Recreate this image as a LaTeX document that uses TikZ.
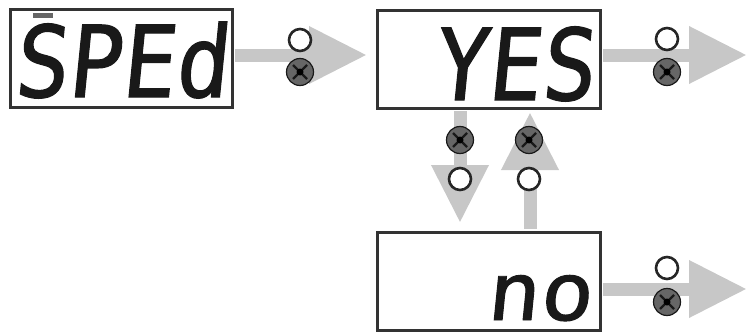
\documentclass[tikz,border=0pt]{standalone}
\usepackage{fontspec}
\newfontfamily\segfont[FakeStretch=0.9,FakeSlant=0.1,FakeBold=1.2]{DejaVu Sans Mono}
\newfontfamily\segfontw[FakeStretch=1.1,FakeSlant=0.1,FakeBold=1.2]{DejaVu Sans Mono}
\usetikzlibrary{arrows.meta}
\begin{document}
\begin{tikzpicture}[x=1pt,y=-1pt,
  box/.style={draw=black!80,line width=3pt,fill=white,inner sep=0pt,minimum width=222pt,minimum height=98pt},
  seg/.style={inner sep=0pt,text depth=0pt,text=black!90,font=\segfont\fontsize{99}{99}\selectfont},
  segsmall/.style={inner sep=0pt,text depth=0pt,text height=45pt,text=black!90,font=\segfontw\fontsize{80}{80}\selectfont},
  flow/.style={draw=black!22,line width=13pt,shorten <=1.5pt,-{Triangle[length=58pt,width=54pt]}},
  opendot/.style={circle,draw=black!85,line width=2.6pt,fill=white,minimum size=22pt,inner sep=0pt},
  fulldot/.style={circle,draw=black!90,line width=1.2pt,fill=black!60,minimum size=27pt,inner sep=0pt,
    path picture={\draw[black!90,line width=2.2pt]
      ([shift={(-7pt,-7pt)}]path picture bounding box.center) -- ([shift={(7pt,7pt)}]path picture bounding box.center)
      ([shift={(-7pt,7pt)}]path picture bounding box.center) -- ([shift={(7pt,-7pt)}]path picture bounding box.center);
      \fill[black] (path picture bounding box.center) circle[radius=3.5pt];}}
]
\useasboundingbox (0,0) rectangle (748,332);
% displays
\node[box] (b1) at (121,58.5) {};
\node[box,minimum width=223pt] (b2) at (488.5,59) {};
\node[box,minimum width=223pt] (b3) at (488.5,281) {};
\node[seg,anchor=base east] (t1) at (228,97) {SPEd};
\node[seg,anchor=base east] (t2) at (594,100) {YES};
\node[segsmall,anchor=base east] (t3) at (592,320) {no};
\fill[black!60] (33,13) rectangle (53,18);
% arrow end points
\coordinate (e1) at (367,55);
\coordinate (e2) at (747,55);
\coordinate (e3) at (747,289);
\coordinate (d1) at (460,223);
\coordinate (u1) at (530,112);
% connectors
\draw[flow] (b1.east |- e1) -- (e1);
\draw[flow] (b2.east |- e2) -- (e2);
\draw[flow] (b3.east |- e3) -- (e3);
\draw[flow] (b2.south -| d1) -- (d1);
\draw[flow] (b3.north -| u1) -- (u1);
% key indicators
\node[opendot] (o1) at (300,40) {};
\node[fulldot] (f1) at (300,72) {};
\node[opendot] (o2) at (667,39) {};
\node[fulldot] (f2) at (667,72) {};
\node[opendot] (o3) at (667,268) {};
\node[fulldot] (f3) at (667,302) {};
\node[fulldot] (f4) at (460,140) {};
\node[opendot] (o4) at (460,179) {};
\node[fulldot] (f5) at (529,140) {};
\node[opendot] (o5) at (529,179) {};
\end{tikzpicture}
\end{document}
